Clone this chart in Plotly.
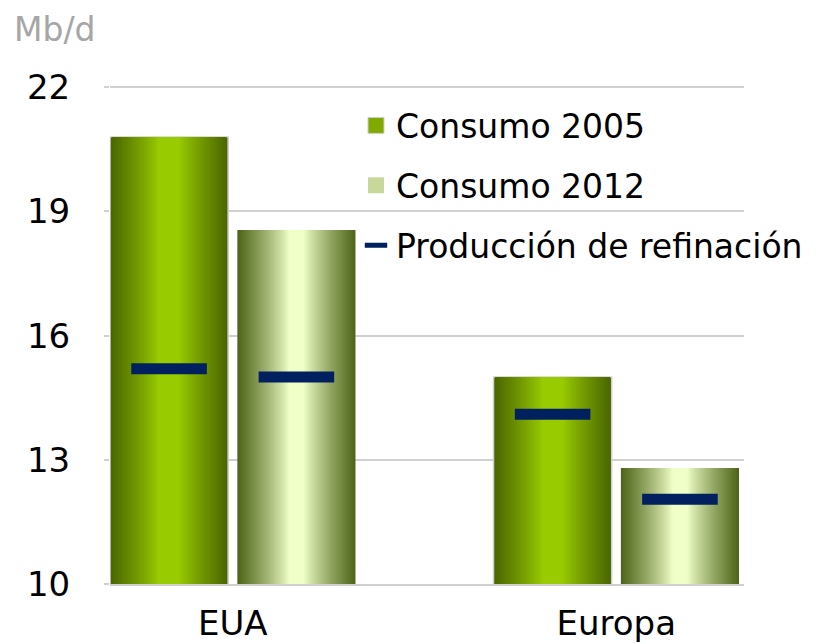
import plotly.graph_objects as go

# ---- data ----
regions = ["EUA", "Europa"]
consumo_2005 = [20.8, 15.0]
consumo_2012 = [18.55, 12.8]
refinacion_2005 = [15.2, 14.1]
refinacion_2012 = [15.0, 12.05]
y_ticks = [10, 13, 16, 19, 22]
unit_label = "Mb/d"

FONT = "DejaVu Sans"
BAR_W = 0.308
GROUP_OFF = 0.166
N_LAYERS = 40


def hex2rgb(h):
    h = h.lstrip("#")
    return tuple(int(h[i:i + 2], 16) for i in (0, 2, 4))


def lerp(c1, c2, a):
    r1, r2 = hex2rgb(c1), hex2rgb(c2)
    return "rgb(%d,%d,%d)" % tuple(round(r1[i] + (r2[i] - r1[i]) * a) for i in range(3))


def grad_color(t, center, edge, plateau, gamma):
    if t <= plateau:
        return lerp(center, center, 0)
    a = ((t - plateau) / (1 - plateau)) ** gamma
    return lerp(center, edge, a)


x_idx = list(range(len(regions)))
fig = go.Figure()

series = [
    ("Consumo 2005", consumo_2005, -GROUP_OFF, "#99cc00", "#4a6600", 0.18, 0.9, "c2005", "#cfcfcf"),
    ("Consumo 2012", consumo_2012, GROUP_OFF, "#f0ffc8", "#4f661a", 0.14, 0.85, "c2012", None),
]

for name, vals, off, cc, ec, plat, gam, grp, border in series:
    for k in range(N_LAYERS):
        frac = 1 - k / N_LAYERS
        w = BAR_W * frac
        col = grad_color(frac, cc, ec, plat, gam)
        line = dict(width=0)
        if k == 0 and border:
            line = dict(width=1.5, color=border)
        fig.add_trace(go.Bar(
            x=x_idx, y=vals, width=[w] * len(vals), offset=[off - w / 2] * len(vals),
            marker=dict(color=col, line=line), name=name, legendgroup=grp,
            showlegend=False, hoverinfo="skip" if k else "x+y",
        ))

# legend entries for the bar series
fig.add_trace(go.Scatter(x=[None], y=[None], mode="markers", name="Consumo 2005",
                         legendgroup="c2005", legendrank=1,
                         marker=dict(symbol="square", size=20, color="#80aa00",
                                     line=dict(width=1, color="#cfcfcf"))))
fig.add_trace(go.Scatter(x=[None], y=[None], mode="markers", name="Consumo 2012",
                         legendgroup="c2012", legendrank=2,
                         marker=dict(symbol="square", size=20, color="#c8d89a",
                                     line=dict(width=0))))

# refining production markers
ref_x = [i - GROUP_OFF for i in x_idx] + [i + GROUP_OFF for i in x_idx]
ref_y = refinacion_2005 + refinacion_2012
fig.add_trace(go.Scatter(
    x=ref_x, y=ref_y, mode="markers", name="Producción de refinación",
    legendgroup="ref", legendrank=3,
    marker=dict(symbol="line-ew", size=54, color="#002060",
                line=dict(width=11, color="#002060")),
))

fig.update_layout(
    width=831, height=636,
    margin=dict(l=102, r=95, t=78, b=60, autoexpand=False),
    paper_bgcolor="white", plot_bgcolor="white",
    barmode="overlay",
    font=dict(family=FONT, size=34, color="black"),
    showlegend=True,
    legend=dict(x=0.388, y=0.977, xanchor="left", yanchor="top",
                bgcolor="rgba(0,0,0,0)", font=dict(family=FONT, size=33, color="black"),
                traceorder="grouped", tracegroupgap=14),
    annotations=[dict(text=unit_label, xref="paper", yref="paper", x=-0.155, y=1.157,
                      xanchor="left", yanchor="top", showarrow=False,
                      font=dict(family=FONT, size=33, color="#a6a6a6"))],
)
fig.update_xaxes(range=[-0.32, 1.333], tickvals=x_idx, ticktext=regions, automargin=False,
                 showgrid=False, zeroline=False, showline=True, linecolor="#d0d0d0",
                 linewidth=2, ticks="", ticklabelstandoff=8,
                 tickfont=dict(family=FONT, size=34, color="black"))
fig.update_yaxes(range=[10, 22.03], tickvals=y_ticks, showgrid=True, gridcolor="#d0d0d0",
                 gridwidth=2, zeroline=False, showline=False, ticks="outside", ticklen=5,
                 tickcolor="#d0d0d0", tickwidth=2, ticklabelstandoff=27, automargin=False,
                 tickfont=dict(family=FONT, size=34, color="black"))

fig.write_html("out.html")
